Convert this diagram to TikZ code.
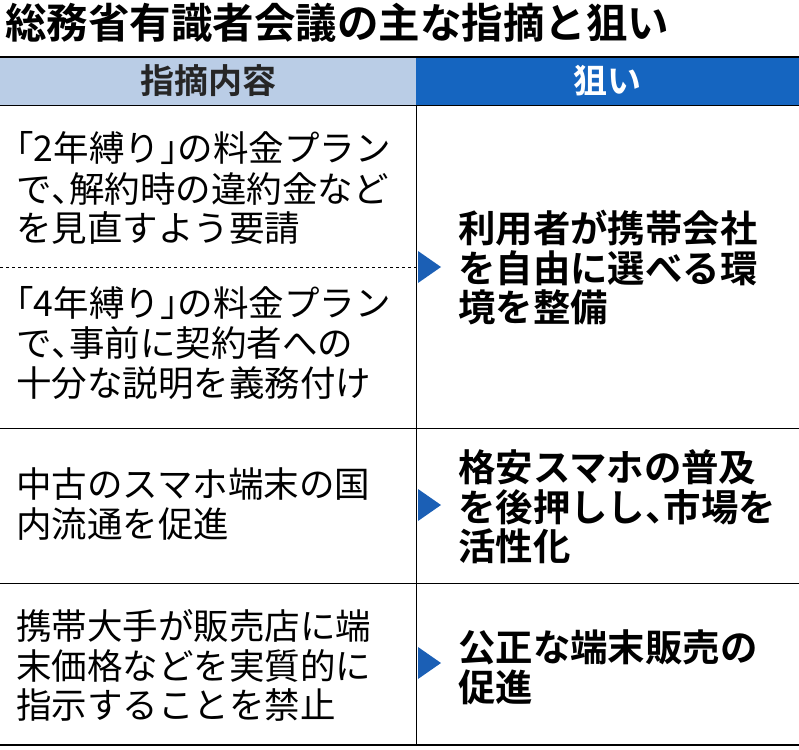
\documentclass[tikz,border=0pt]{standalone}
\usepackage{fontspec}
\setmainfont{Noto Sans CJK JP}
\newfontfamily\jpb{Noto Sans CJK JP Bold}
\newcommand{\tou}{\makebox[0.5em][l]{、}}
\newcommand{\kko}{\makebox[0.5em][r]{「}}
\newcommand{\kkc}{\makebox[0.5em][l]{」}}
\definecolor{hlight}{HTML}{BACDE6}
\definecolor{hdark}{HTML}{1565C0}
\definecolor{tri}{HTML}{1B5FB5}
\begin{document}
\begin{tikzpicture}[x=1pt,y=-1pt,
  lt/.style={anchor=west,inner sep=0,font=\fontsize{35.5}{35}\selectfont},
  rt/.style={anchor=west,inner sep=0,font=\jpb\fontsize{37.4}{37}\selectfont},
  arr/.style={fill=tri,draw=none}]
\useasboundingbox (0,0) rectangle (799,749);
\node[anchor=west,inner sep=0,font=\jpb\fontsize{41.5}{41}\selectfont] (title) at (5,23) {総務省有識者会議の主な指摘と狙い};
\fill[hlight] (0,57) rectangle (416,105);
\fill[hdark] (416,57) rectangle (799,105);
\draw[line width=1.5pt] (0,57) -- (799,57);
\node[font=\jpb\fontsize{34}{34}\selectfont,text=black!85] (h1) at (208,81) {指摘内容};
\node[font=\jpb\fontsize{34}{34}\selectfont,text=white] (h2) at (607,81) {狙い};
\draw[line width=0.8pt] (0,105) -- (799,105);
\draw[line width=0.8pt] (0,428) -- (799,428);
\draw[line width=0.8pt] (0,583) -- (799,583);
\draw[line width=1.8pt] (0,745) -- (799,745);
\draw[line width=0.8pt] (416,105) -- (416,745);
\draw[dashed,line width=0.6pt] (0,267) -- (416,267);
\foreach \y in {267,505,663}{\fill[arr] (418,\y-16) -- (441,\y) -- (418,\y+16) -- cycle;}
\node[lt] (a1) at (16,148) {\kko 2年縛り\kkc の料金プラン};
\node[lt] (a2) at (16,189) {で\tou 解約時の違約金など};
\node[lt] (a3) at (16,228) {を見直すよう要請};
\node[lt] (b1) at (16,303) {\kko 4年縛り\kkc の料金プラン};
\node[lt] (b2) at (16,343) {で\tou 事前に契約者への};
\node[lt] (b3) at (16,383) {十分な説明を義務付け};
\node[lt] (c1) at (16,484) {中古のスマホ端末の国};
\node[lt] (c2) at (16,524) {内流通を促進};
\node[lt] (d1) at (16,626) {携帯大手が販売店に端};
\node[lt] (d2) at (16,666) {末価格などを実質的に};
\node[lt] (d3) at (16,705) {指示することを禁止};
\node[rt] (r1) at (458,228) {利用者が携帯会社};
\node[rt] (r2) at (458,268) {を自由に選べる環};
\node[rt] (r3) at (458,307) {境を整備};
\node[rt] (s1) at (458,467) {格安スマホの普及};
\node[rt] (s2) at (458,507) {を後押しし\tou 市場を};
\node[rt] (s3) at (458,546) {活性化};
\node[rt] (t1) at (458,647) {公正な端末販売の};
\node[rt] (t2) at (458,687) {促進};
\end{tikzpicture}
\end{document}
